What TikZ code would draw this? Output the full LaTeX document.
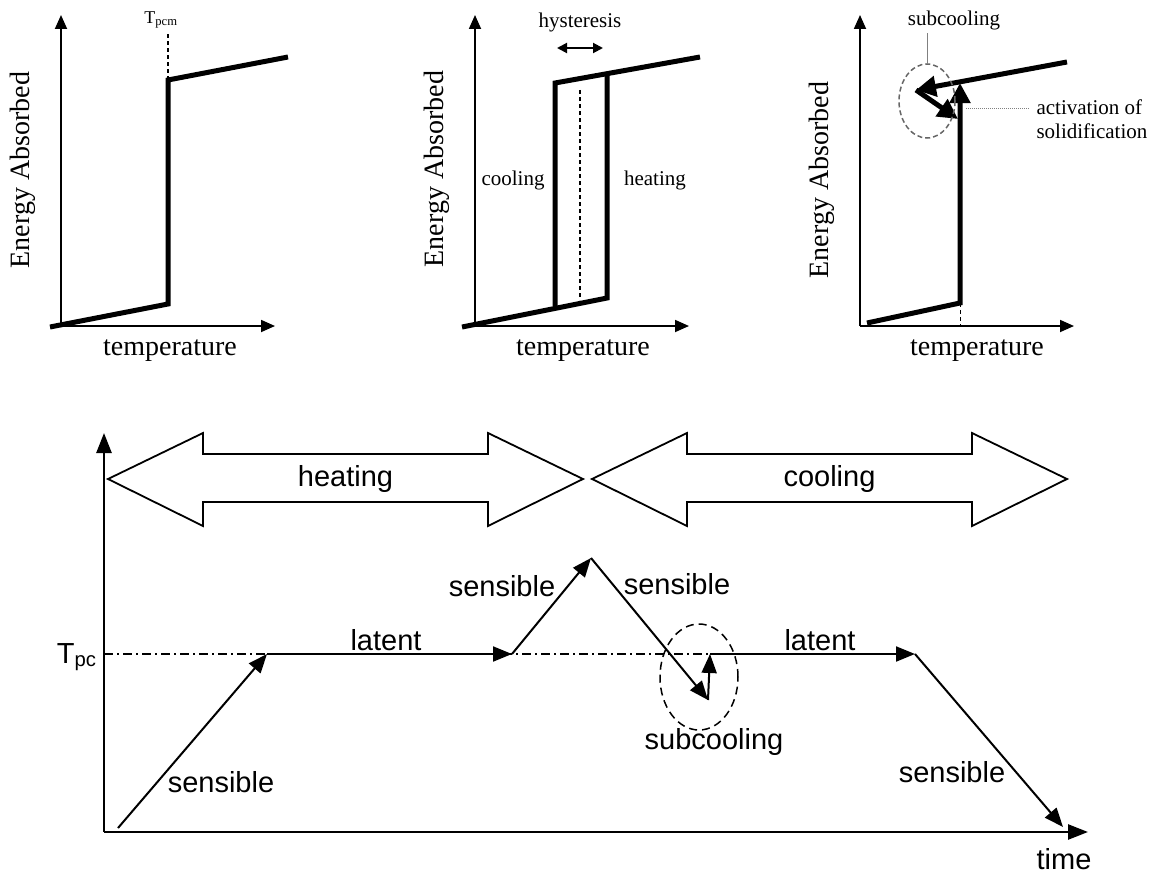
\documentclass[tikz,border=0pt]{standalone}
\usepackage{fontspec}
\setmainfont{Liberation Serif}
\newfontfamily\arialfont{Liberation Sans}
\usetikzlibrary{arrows.meta,calc}
\tikzset{
  topaxis/.style={line width=1.8pt,-{Triangle[length=14pt,width=12pt]}},
  thickline/.style={line width=5pt,line join=miter},
  thickarrow/.style={thickline,-{Triangle[length=20pt,width=20pt]}},
  guide/.style={line width=1.5pt,dash pattern=on 4pt off 3pt},
  leader/.style={line width=1pt,gray},
  axislbl/.style={font=\fontsize{28}{32}\selectfont},
  smalllbl/.style={font=\fontsize{21}{24}\selectfont},
  botaxis/.style={line width=2.5pt,-{Triangle[length=20pt,width=15pt]}},
  stage/.style={line width=2pt,-{Triangle[length=19pt,width=15pt]}},
  bigarrow/.style={line width=1.8pt,line join=miter},
  botlbl/.style={font=\arialfont\fontsize{29}{34}\selectfont},
  tpcline/.style={line width=1.5pt,dash pattern=on 9pt off 4pt on 2pt off 4pt}
}
\begin{document}
\begin{tikzpicture}[x=1pt,y=-1pt]
  \useasboundingbox (0,0) rectangle (1149,875);
  % energy absorbed versus temperature
  \foreach \ox/\n/\ey/\tx in {61/a/170/170,475/b/169/583,860/c/180/977} {
    \coordinate (o\n) at (\ox,326);
    \draw[topaxis] (o\n) -- ++(0,-311);
    \draw[topaxis] (o\n) -- ++(214,0);
    \node[axislbl,rotate=90] (e\n) at ({\ox-38},\ey) {Energy Absorbed};
    \node[axislbl] (t\n) at (\tx,351) {temperature};
  }
  % ideal
  \coordinate (a1) at (50,327); \coordinate (a2) at (168,304);
  \coordinate (a3) at (168,80); \coordinate (a4) at (288,57);
  \draw[thickline] (a1) -- (a2) -- (a3) -- (a4);
  \node[font=\fontsize{18}{20}\selectfont] (tpcm) at (161,20) {T\textsubscript{pcm}};
  \draw[guide] (a3) -- (a3 |- tpcm.south);
  % hysteresis
  \coordinate (b1) at (462,327); \coordinate (b2) at (607,298); \coordinate (b3) at (607,74);
  \coordinate (b4) at (555,306); \coordinate (b5) at (555,83); \coordinate (b6) at (700,57);
  \draw[thickline] (b1) -- (b2) -- (b3);
  \draw[thickline] (b4) -- (b5) -- (b6);
  \coordinate (b7) at (580,90); \coordinate (b8) at (580,300);
  \draw[guide] (b7) -- (b8);
  \node[smalllbl] (hyst) at (580,22) {hysteresis};
  \coordinate (h1) at (557,48); \coordinate (h2) at (603,48);
  \draw[line width=2pt,{Triangle[length=10pt,width=10pt]}-{Triangle[length=10pt,width=10pt]}] (h1) -- (h2);
  \node[smalllbl] (cool) at (513,180) {cooling};
  \node[smalllbl] (heat) at (655,180) {heating};
  % subcooling
  \coordinate (c1) at (867,323); \coordinate (c2) at (960,303); \coordinate (c3) at (960,83);
  \coordinate (c4) at (1067,62); \coordinate (c5) at (916,90); \coordinate (c6) at (958,119);
  \draw[thickarrow] (c1) -- (c2) -- (c3);
  \draw[thickarrow] (c4) -- (c5);
  \draw[thickarrow] (c5) -- (c6);
  \draw[guide,line width=1pt] (c2) -- (c2 |- oc);
  \coordinate (cc) at (927,101);
  \draw[gray!80!black,line width=1.5pt,dash pattern=on 5pt off 3pt] (cc) ellipse [x radius=28pt,y radius=37pt];
  \node[smalllbl] (sub) at (954,20) {subcooling};
  \coordinate (ctop) at (927,64);
  \draw[leader] (ctop |- sub.south) -- (ctop);
  \node[smalllbl,align=left,anchor=west] (act) at (1033,119) {activation of\\solidification};
  \coordinate (l1) at (966,108); \coordinate (l2) at (1030,108);
  \draw[leader,densely dotted] (l1) -- (l2);
  % temperature versus time
  \coordinate (O) at (104,832);
  \draw[botaxis] (O) -- (104,433);
  \draw[botaxis] (O) -- (1088,832);
  \foreach \a/\b/\t in {108/583/heating,592/1067/cooling} {
    \draw[bigarrow] (\a,479) -- ++(95,-46) -- ++(0,21) -- ({\b-95},454) -- ++(0,-21)
      -- (\b,479) -- ++(-95,47) -- ++(0,-24) -- ({\a+95},502) -- ++(0,24) -- cycle;
    \node[botlbl] (\t) at ({(\a+\b)/2},479) {\t};
  }
  \coordinate (s0) at (118,828); \coordinate (s1) at (267,654);
  \coordinate (s2) at (512,654); \coordinate (s3) at (591,558);
  \coordinate (s4) at (708,700); \coordinate (s5) at (710,654);
  \coordinate (s6) at (915,654); \coordinate (s7) at (1063,827);
  \node[botlbl,anchor=east] (tpc) at (100,657) {T\textsubscript{pc}};
  \draw[tpcline] (O |- s1) -- (s5);
  \foreach \i/\j in {0/1,1/2,2/3,3/4,4/5,5/6,6/7} \draw[stage] (s\i) -- (s\j);
  \draw[line width=1.5pt,dash pattern=on 8pt off 5pt] (699,677) ellipse [x radius=39pt,y radius=53pt];
  \node[botlbl] (sens1) at (221,782) {sensible};
  \node[botlbl] (lat1) at (386,640) {latent};
  \node[botlbl] (sens2) at (502,586) {sensible};
  \node[botlbl] (sens3) at (677,584) {sensible};
  \node[botlbl] (subc) at (714,742) {subcooling};
  \node[botlbl] (lat2) at (820,640) {latent};
  \node[botlbl] (sens4) at (952,772) {sensible};
  \node[botlbl] (time) at (1064,859) {time};
\end{tikzpicture}
\end{document}
